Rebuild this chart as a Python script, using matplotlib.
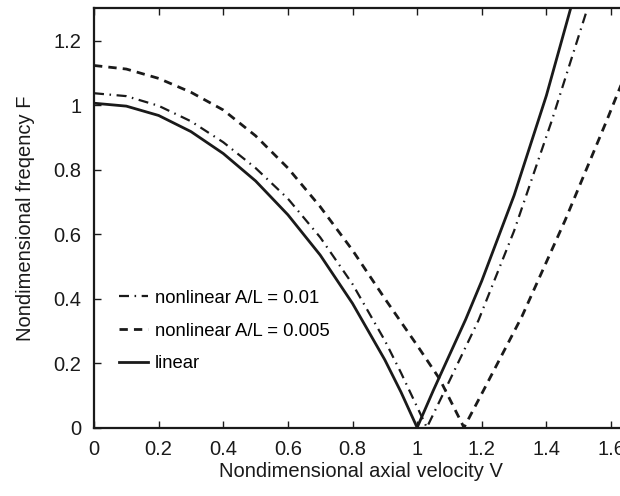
import matplotlib
matplotlib.use("Agg")
import matplotlib.pyplot as plt

# linear
lin_v = [0, 0.1, 0.2, 0.3, 0.4, 0.5, 0.6, 0.7, 0.8, 0.9, 0.95, 1.0,
         1.05, 1.1, 1.15, 1.2, 1.3, 1.4, 1.475]
lin_f = [1.006, 0.997, 0.968, 0.918, 0.85, 0.765, 0.66, 0.535, 0.385, 0.21, 0.11, 0.0,
         0.115, 0.225, 0.335, 0.455, 0.72, 1.03, 1.30]

# nonlinear A/L = 0.01
nl1_v = [0, 0.1, 0.2, 0.3, 0.4, 0.5, 0.6, 0.7, 0.8, 0.9, 0.95, 1.03,
         1.1, 1.19, 1.3, 1.417, 1.527]
nl1_f = [1.037, 1.028, 0.998, 0.95, 0.885, 0.805, 0.71, 0.59, 0.445, 0.27, 0.17, 0.0,
         0.145, 0.333, 0.61, 0.953, 1.30]

# nonlinear A/L = 0.005
nl2_v = [0, 0.1, 0.2, 0.3, 0.4, 0.5, 0.6, 0.7, 0.8, 0.9, 1.0, 1.07, 1.145,
         1.2, 1.324, 1.458, 1.587, 1.65]
nl2_f = [1.123, 1.112, 1.083, 1.04, 0.985, 0.905, 0.805, 0.685, 0.55, 0.40, 0.255, 0.15, 0.0,
         0.105, 0.344, 0.643, 0.953, 1.11]

plt.rcParams['font.family'] = ['Liberation Sans', 'DejaVu Sans']

fig = plt.figure(figsize=(6.2, 4.96), dpi=100)
ax = fig.add_axes([0.1516, 0.138, 0.86, 0.845])

ax.plot(nl1_v, nl1_f, color='#1a1a1a', lw=1.6, linestyle=(0, (4.5, 2.5, 0.7, 2.5)),
        label='nonlinear A/L = 0.01')
ax.plot(nl2_v, nl2_f, color='#1a1a1a', lw=2.0, linestyle=(0, (3, 2.2)),
        label='nonlinear A/L = 0.005')
ax.plot(lin_v, lin_f, color='#1a1a1a', lw=2.0, label='linear')

ax.set_xlim(0, 1.65)
ax.set_ylim(0, 1.3)
ax.set_xticks([0, 0.2, 0.4, 0.6, 0.8, 1, 1.2, 1.4, 1.6])
ax.set_xticklabels(['0', '0.2', '0.4', '0.6', '0.8', '1', '1.2', '1.4', '1.6'])
ax.set_yticks([0, 0.2, 0.4, 0.6, 0.8, 1, 1.2])
ax.set_yticklabels(['0', '0.2', '0.4', '0.6', '0.8', '1', '1.2'])
ax.tick_params(direction='in', top=True, right=True, labelsize=14.5, length=5,
               width=1, colors='#1a1a1a', pad=9)
for s in ax.spines.values():
    s.set_linewidth(1.6)
    s.set_color('#1a1a1a')

ax.set_xlabel('Nondimensional axial velocity V', fontsize=14.5, color='#1a1a1a', labelpad=2)
ax.set_ylabel('Nondimensional freqency F', fontsize=14.5, color='#1a1a1a', labelpad=13)

ax.legend(loc='center left', bbox_to_anchor=(0.015, 0.23), frameon=False,
          fontsize=13.3, handlelength=1.6, handletextpad=0.35, labelspacing=0.85)

fig.savefig('out.png', dpi=100)
